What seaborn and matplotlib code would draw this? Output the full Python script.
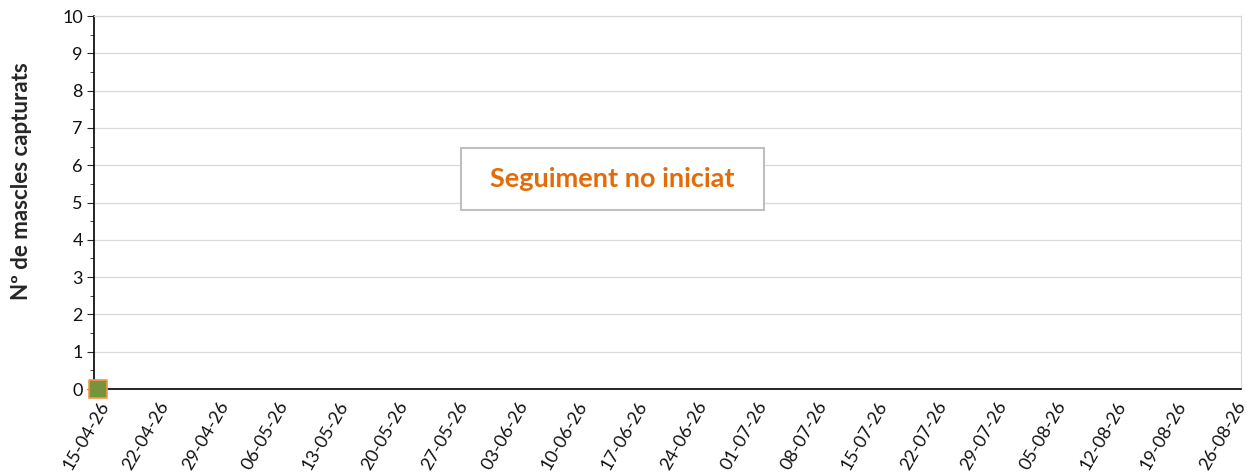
import pandas as pd
import matplotlib
matplotlib.use("Agg")
import matplotlib.pyplot as plt
import matplotlib.patches as mpatches
import seaborn as sns

# data
capture_dates = ["15-04-26"]
males_captured = [0]
tick_dates = ["15-04-26", "22-04-26", "29-04-26", "06-05-26", "13-05-26",
              "20-05-26", "27-05-26", "03-06-26", "10-06-26", "17-06-26",
              "24-06-26", "01-07-26", "08-07-26", "15-07-26", "22-07-26",
              "29-07-26", "05-08-26", "12-08-26", "19-08-26", "26-08-26"]
y_label = "Nº de mascles capturats"
status_text = "Seguiment no iniciat"

sns.set_style("white")
plt.rcParams['font.family'] = ['Lato', 'DejaVu Sans']

df = pd.DataFrame({
    "date": pd.to_datetime(capture_dates, format="%d-%m-%y"),
    "males": males_captured,
})
ticks = pd.to_datetime(tick_dates, format="%d-%m-%y")

fig = plt.figure(figsize=(12.47, 4.72), dpi=100)
ax = fig.add_axes([0.0754, 0.1758, 0.9198, 0.7902])

sns.scatterplot(data=df, x="date", y="males", ax=ax, marker="s", s=150,
                color="#77933C", edgecolor="#F79646", linewidth=1.2,
                zorder=5, clip_on=False, legend=False)

ax.set_xlim(ticks[0] - pd.Timedelta(hours=11), ticks[-1] + pd.Timedelta(hours=17))
ax.set_ylim(0, 10)
ax.set_yticks(range(0, 11))
ax.set_yticks([i + 0.5 for i in range(10)], minor=True)
ax.yaxis.grid(True, which="major", color="#D9D9D9", linewidth=0.9)
ax.set_axisbelow(True)

ax.set_xticks(ticks)
ax.set_xticklabels(tick_dates, rotation=60, ha="right", rotation_mode="anchor",
                   fontsize=13, color="#111111")
ax.tick_params(axis="x", length=0, pad=7)
ax.tick_params(axis="y", which="major", length=5, direction="out", labelsize=13,
               labelcolor="#111111", left=True, pad=3)
ax.tick_params(axis="y", which="minor", length=3, direction="out", left=True)

for side in ["left", "bottom"]:
    ax.spines[side].set_color("black")
    ax.spines[side].set_linewidth(1.2)
for side in ["top", "right"]:
    ax.spines[side].set_color("#D9D9D9")
    ax.spines[side].set_linewidth(0.9)

ax.set_xlabel("")
ax.set_ylabel(y_label, fontsize=16, fontweight="bold")
ax.yaxis.set_label_coords(-0.054, 0.558)

# status box
ax.add_patch(mpatches.Rectangle((0.320, 0.480), 0.264, 0.166, transform=ax.transAxes,
                                facecolor="white", edgecolor="#BFBFBF", linewidth=1.5,
                                zorder=4))
ax.text(0.452, 0.563, status_text, transform=ax.transAxes, ha="center", va="center",
        fontsize=19.5, fontweight="bold", color="#E36C09", zorder=6)

fig.savefig("out.png", dpi=100)
